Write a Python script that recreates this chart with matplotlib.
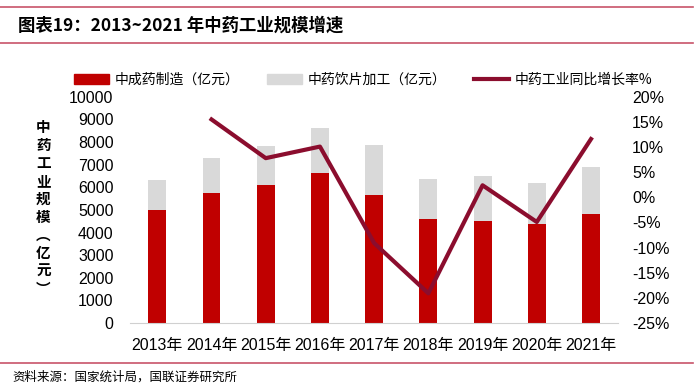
import matplotlib
matplotlib.use("Agg")
import matplotlib.pyplot as plt
from matplotlib.lines import Line2D
from matplotlib.patches import Patch
import numpy as np

plt.rcParams['font.family'] = ['Liberation Sans', 'Noto Sans CJK SC', 'DejaVu Sans']

# data
years = ['2013年', '2014年', '2015年', '2016年', '2017年', '2018年', '2019年', '2020年', '2021年']
patent_med = [5000, 5740, 6100, 6640, 5680, 4590, 4530, 4370, 4800]      # 中成药制造
slices = [1330, 1550, 1745, 2000, 2180, 1755, 1960, 1800, 2090]          # 中药饮片加工
growth = [np.nan, 15.5, 7.8, 10.1, -9.1, -19.1, 2.4, -4.9, 11.6]         # 同比增长率 %

red = '#C00000'
grey = '#D9D9D9'
wine = '#8B0D2E'
rule = '#C8546A'
cjk = ['Noto Sans CJK SC', 'DejaVu Sans']

fig = plt.figure(figsize=(7, 3.92), dpi=100)
ax = fig.add_axes([0.186, 0.176, 0.697, 0.577])
ax2 = ax.twinx()

x = np.arange(len(years))
w = 0.33
ax.bar(x, patent_med, w, color=red, zorder=2)
ax.bar(x, slices, w, bottom=patent_med, color=grey, zorder=2)
ax2.plot(x, growth, color=wine, lw=3, zorder=3)

ax.set_xlim(-0.5, len(years) - 0.5)
ax.set_ylim(0, 10000)
ax.set_yticks(range(0, 10001, 1000))
ax2.set_ylim(-25, 20)
ax2.set_yticks(range(-25, 21, 5))
ax2.set_yticklabels([f'{v}%' for v in range(-25, 21, 5)])
ax.set_xticks(x)
ax.set_xticklabels(years, fontsize=11.5)
ax.tick_params(axis='both', length=0, labelsize=11.5)
ax.tick_params(axis='x', pad=11)
ax.tick_params(axis='y', pad=12)
ax2.tick_params(axis='y', length=0, labelsize=11.5, pad=10)

for a in (ax, ax2):
    for s in a.spines.values():
        s.set_visible(False)
ax.spines['bottom'].set_visible(True)
ax.spines['bottom'].set_color('#D0D0D0')
ax.set_zorder(ax2.get_zorder() - 1)
ax.patch.set_visible(False)

# vertical y label
fig.text(0.062, 0.47, '\n'.join('中药工业规模') + '\n︵\n亿\n元\n︶', family=cjk,
         fontsize=10.5, fontweight='bold', ha='center', va='center', linespacing=1.15)

# legend
handles = [Patch(color=red), Patch(color=grey), Line2D([], [], color=wine, lw=3)]
labels = ['中成药制造（亿元）', '中药饮片加工（亿元）', '中药工业同比增长率%']
fig.legend(handles, labels, loc='center', bbox_to_anchor=(0.519, 0.796), ncol=3, frameon=False,
           prop={'family': cjk, 'size': 10}, handlelength=2.5, handleheight=0.7,
           columnspacing=2.0, handletextpad=0.4)

# title and rules
fig.add_artist(Line2D([0.0, 0.99], [0.982, 0.982], color=rule, lw=1.2))
fig.add_artist(Line2D([0.0, 0.99], [0.89, 0.89], color=rule, lw=1.2))
fig.add_artist(Line2D([0.0, 0.99], [0.074, 0.074], color=rule, lw=1.2))
fig.text(0.025, 0.935, '图表19：2013~2021 年中药工业规模增速', family=cjk,
         fontsize=12.5, fontweight='bold', ha='left', va='center')
fig.text(0.018, 0.038, '资料来源：国家统计局，国联证券研究所', family=cjk,
         fontsize=9, ha='left', va='center')

fig.savefig('out.png', dpi=100)
